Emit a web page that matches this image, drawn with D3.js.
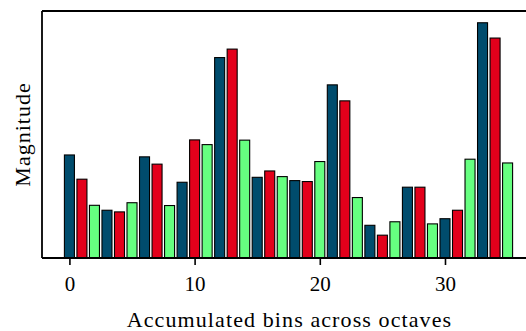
<!DOCTYPE html>
<html>
<head>
<meta charset="utf-8">
<script src="https://cdn.jsdelivr.net/npm/d3@7"></script>
<style>
  body { margin: 0; background: #fff; }
  svg text { font-family: "Liberation Serif", "DejaVu Serif", serif; fill: #000; }
</style>
</head>
<body>
<script>
// bin index 0..35, colours cycle blue / red / green
var bins = d3.range(36);
var magnitude = [0.438, 0.335, 0.224, 0.203, 0.196, 0.235, 0.430, 0.399, 0.223,
                 0.322, 0.502, 0.482, 0.852, 0.888, 0.501, 0.343, 0.370, 0.346,
                 0.329, 0.325, 0.410, 0.736, 0.668, 0.257, 0.139, 0.097, 0.154,
                 0.301, 0.301, 0.145, 0.167, 0.203, 0.420, 1.000, 0.935, 0.404];
var colors = ["#004c6d", "#e3001b", "#66ff80"];
var xTicks = [0, 10, 20, 30];

function main(){
	var w = 526, h = 331;
	var mLeft = 42, mTop = 11, mRight = 535, mBottom = 258;

	var svg = d3.select("body").append("svg")
		.attr("width", w)
		.attr("height", h);

	var x = d3.scaleLinear().domain([-2.19, 37.19]).range([mLeft, mRight]);
	var y = d3.scaleLinear().domain([0, 1.05]).range([mBottom, mTop]);
	var bw = x(0.8) - x(0);

	svg.selectAll(".bar")
		.data(bins)
		.enter()
		.append("rect")
		.attr("class", "bar")
		.attr("x", function(d){ return x(d - 0.4); })
		.attr("y", function(d){ return y(magnitude[d]); })
		.attr("width", bw)
		.attr("height", function(d){ return y(0) - y(magnitude[d]); })
		.attr("fill", function(d){ return colors[d % 3]; })
		.attr("stroke", "#000")
		.attr("stroke-width", 1.1);

	var xAxis = d3.axisBottom(x)
		.tickValues(xTicks)
		.tickSize(7)
		.tickPadding(11)
		.tickFormat(d3.format("d"));

	var gx = svg.append("g")
		.attr("transform", "translate(0," + mBottom + ")")
		.call(xAxis);
	gx.select(".domain").remove();
	gx.selectAll(".tick line").attr("stroke", "#000").attr("stroke-width", 1.6);
	gx.selectAll(".tick text")
		.attr("font-family", null)
		.attr("font-size", null)
		.style("font-size", "21px");

	// spines: left, top, bottom (right edge falls outside the window)
	svg.append("line")
		.attr("x1", mLeft).attr("x2", mLeft)
		.attr("y1", mTop).attr("y2", mBottom)
		.attr("stroke", "#000").attr("stroke-width", 1.8);
	svg.append("line")
		.attr("x1", mLeft).attr("x2", mRight)
		.attr("y1", mTop).attr("y2", mTop)
		.attr("stroke", "#000").attr("stroke-width", 1.8);
	svg.append("line")
		.attr("x1", mLeft).attr("x2", mRight)
		.attr("y1", mBottom).attr("y2", mBottom)
		.attr("stroke", "#000").attr("stroke-width", 1.8);

	svg.append("text")
		.text("Accumulated bins across octaves")
		.attr("x", (123 + 456) / 2)
		.attr("y", 327)
		.attr("text-anchor", "middle")
		.style("font-size", "22px")
		.style("letter-spacing", "1.1px");

	svg.append("text")
		.text("Magnitude")
		.attr("transform", "translate(30," + (mTop + mBottom) / 2 + ") rotate(-90)")
		.attr("text-anchor", "middle")
		.style("font-size", "22px")
		.style("letter-spacing", "1px");
}

main();
</script>
</body>
</html>
